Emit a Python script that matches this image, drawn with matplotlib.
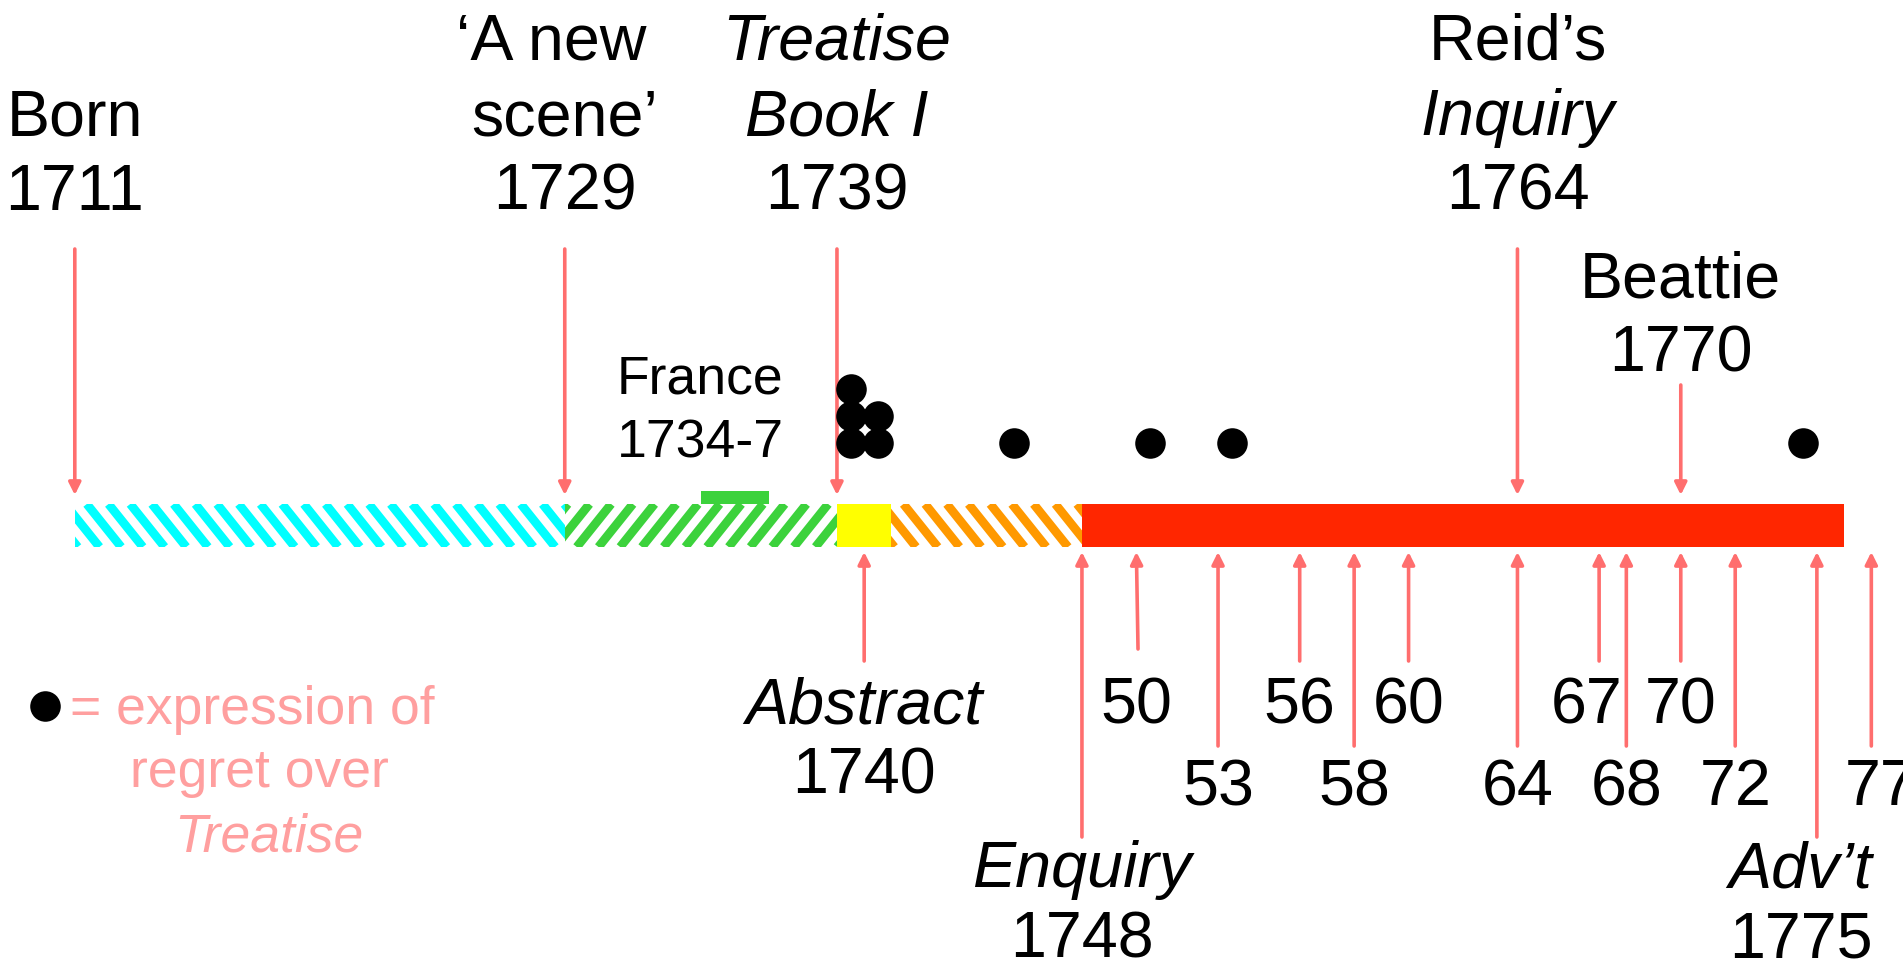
import matplotlib
matplotlib.use('Agg')
import matplotlib.pyplot as plt
from matplotlib.patches import Rectangle
from matplotlib.collections import LineCollection
import numpy as np

plt.rcParams['font.family'] = ['Liberation Sans', 'DejaVu Sans']

# ---------------- data ----------------
period_starts = [1711, 1729, 1739, 1741, 1748]
period_ends = [1729, 1739, 1741, 1748, 1776]
period_colors = ['#00FFFF', '#3CD23C', '#FFFF00', '#FF9900', '#FF2600']
period_hatch = ['\\', '/', '', '\\', '']

france_span = [1734, 1736.5]
france_label = ['France', '1734-7']

regret_years = [1739.5, 1739.5, 1739.5, 1740.5, 1740.5, 1745.5, 1750.5, 1753.5, 1774.5]

top_years = [1711, 1729, 1739, 1764, 1770]
top_labels = [['Born', '1711'],
              ['\u2018A new', 'scene\u2019', '1729'],
              ['Treatise', 'Book I', '1739'],
              ['Reid\u2019s', 'Inquiry', '1764'],
              ['Beattie', '1770']]
top_italic = [[False, False],
              [False, False, False],
              [True, True, False],
              [False, True, False],
              [False, False]]

bottom_years = [1740, 1748, 1750, 1753, 1756, 1758, 1760, 1764, 1767, 1768, 1770, 1772, 1775, 1777]
bottom_labels = [['Abstract', '1740'], ['Enquiry', '1748'], ['50'], ['53'], ['56'], ['58'],
                 ['60'], ['64'], ['67'], ['68'], ['70'], ['72'], ['Adv\u2019t', '1775'], ['77']]
bottom_italic = [[True, False], [True, False], [False], [False], [False], [False],
                 [False], [False], [False], [False], [False], [False], [True, False], [False]]
bottom_row = [0, 2, 0, 1, 0, 1, 0, 1, 0, 1, 0, 1, 2, 1]

legend_lines = ['= expression of', 'regret over', 'Treatise']
legend_italic = [False, False, True]

# ---------------- layout ----------------
W, H = 1903, 966
PX_PER_YEAR = 27.22
X0_PX = 74.8           # pixel position of 1711
ARROW_C = '#FF6E6E'
LEGEND_C = '#FF9F9F'
BAR_TOP, BAR_BOT = 504, 547
FS = 46.5
FS_SMALL = 38.5


def yr(px):
    return 1711 + (px - X0_PX) / PX_PER_YEAR


fig = plt.figure(figsize=(W / 100, H / 100), dpi=100)
ax = fig.add_axes([0, 0, 1, 1])
ax.set_xlim(yr(0), yr(W))
ax.set_ylim(H, 0)
ax.axis('off')


def arrow(x, y_tail, y_head, x_tail=None):
    ax.annotate('', xy=(x, y_head), xytext=(x if x_tail is None else x_tail, y_tail),
                arrowprops=dict(arrowstyle='-|>', color=ARROW_C, lw=2.6,
                                mutation_scale=18, shrinkA=0, shrinkB=0))


def striped(x0, x1, color, direction):
    rect = Rectangle((x0, BAR_TOP), x1 - x0, BAR_BOT - BAR_TOP, facecolor='white',
                     edgecolor='none', zorder=2)
    ax.add_patch(rect)
    period = 21.7 / PX_PER_YEAR
    run = (BAR_BOT - BAR_TOP) * 0.8 / PX_PER_YEAR
    offset = 12 / PX_PER_YEAR
    segs = []
    k0 = -int(np.ceil((run + period) / period)) - 1
    k1 = int(np.ceil((x1 - x0) / period)) + 2
    for k in range(k0, k1):
        xs = x0 + offset + k * period
        if direction == '\\':
            segs.append([(xs, BAR_TOP), (xs + run, BAR_BOT)])
        else:
            segs.append([(xs, BAR_BOT), (xs + run, BAR_TOP)])
    lc = LineCollection(segs, colors=color, linewidths=6.3, capstyle='butt', zorder=3)
    ax.add_collection(lc)
    lc.set_clip_path(rect)


# bar segments
for s, e, c, h in zip(period_starts, period_ends, period_colors, period_hatch):
    if h:
        striped(s, e, c, h)
    else:
        ax.add_patch(Rectangle((s, BAR_TOP), e - s, BAR_BOT - BAR_TOP, facecolor=c,
                               edgecolor='none', zorder=2))

# France
ax.add_patch(Rectangle((france_span[0], 491), france_span[1] - france_span[0], BAR_TOP - 491,
                       facecolor='#3CD23C', edgecolor='none', zorder=4))
fx = france_span[0] - 0.05
ax.text(fx, 393, france_label[0], fontsize=FS_SMALL, ha='center', va='baseline')
ax.text(fx + 0.05, 458, france_label[1], fontsize=FS_SMALL, ha='center', va='baseline')

# regret dots (stacked when repeated)
dot_rows = [443, 416, 389]
counts = {}
dx, dy = [], []
for y in regret_years:
    k = counts.get(y, 0)
    counts[y] = k + 1
    dx.append(y)
    dy.append(dot_rows[k])
ax.scatter(dx, dy, s=30.5 ** 2 * 0.52, color='black', zorder=5, linewidths=0)

# top events
LINE_SP = 75
top_nudge = {('\u2018A new'): -0.5}
for yv, labs, itl in zip(top_years, top_labels, top_italic):
    last = 372 if yv == 1770 else 210
    tail = 385 if yv == 1770 else 249
    arrow(yv, tail, 495)
    n = len(labs)
    for i, (t, it) in enumerate(zip(labs, itl)):
        ax.text(yv + top_nudge.get(t, 0), last - (n - 1 - i) * LINE_SP, t, fontsize=FS,
                ha='center', va='baseline', style='italic' if it else 'normal')

# bottom events
row_tail = {0: 661, 1: 746, 2: 837}
row_base = {0: 724, 1: 805, 2: 887}
nudge = {1767: -0.45, 1775: -0.6, 1777: 0.35}
for yv, labs, itl, r in zip(bottom_years, bottom_labels, bottom_italic, bottom_row):
    tail = 649 if yv == 1750 else row_tail[r]
    arrow(yv, tail, 552, x_tail=yv + (0.06 if yv == 1750 else 0))
    lx = yv + nudge.get(yv, 0)
    for i, (t, it) in enumerate(zip(labs, itl)):
        ax.text(lx, row_base[r] + i * 70, t, fontsize=FS, ha='center', va='baseline',
                style='italic' if it else 'normal')

# legend
ax.scatter([yr(45)], [706], s=30.5 ** 2 * 0.52, color='black', linewidths=0)
leg_x = [252, 259, 269]
leg_base = [724, 787, 852]
for t, it, lx, lb in zip(legend_lines, legend_italic, leg_x, leg_base):
    ax.text(yr(lx), lb, t, fontsize=FS_SMALL, ha='center', va='baseline', color=LEGEND_C,
            style='italic' if it else 'normal')

fig.savefig('out.png', dpi=100, facecolor='white')
